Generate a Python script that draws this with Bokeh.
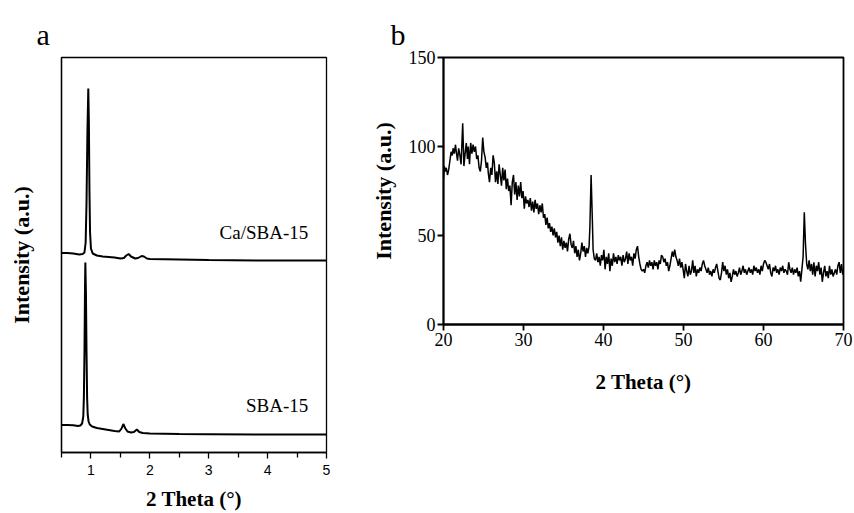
from bokeh.plotting import figure
from bokeh.layouts import row, column
from bokeh.models import FixedTicker, Range1d, Label
from bokeh.embed import file_html
from bokeh.resources import INLINE

# ---------------- Panel a data (low-angle XRD) ----------------
sba_x = [0.5, 0.6, 0.7, 0.78, 0.82, 0.85, 0.87, 0.88, 0.89, 0.9, 0.905, 0.915, 0.925, 0.935,
         0.945, 0.96, 0.98, 1.02, 1.1, 1.2, 1.3, 1.4, 1.48, 1.52, 1.55, 1.58, 1.62, 1.68,
         1.73, 1.78, 1.82, 1.88, 2.0, 2.5, 3.0, 4.0, 5.0]
sba_y = [27.5, 27.6, 27.3, 26.5, 27, 29, 36, 55, 100, 170, 190, 160, 100, 55,
         38, 31, 28, 26, 24.5, 23.5, 22.5, 21.5, 21, 24, 28.5, 24.5, 21, 20,
         20.5, 23, 20.5, 19.5, 19, 18.5, 18.3, 18, 18]

ca_x = [0.5, 0.6, 0.7, 0.8, 0.86, 0.89, 0.91, 0.925, 0.94, 0.955, 0.965, 0.975, 0.985, 1.0,
        1.03, 1.1, 1.2, 1.3, 1.4, 1.5, 1.56, 1.6, 1.64, 1.68, 1.75, 1.8, 1.86, 1.9, 1.95,
        2.0, 2.5, 3.0, 4.0, 5.0]
ca_y = [199.5, 199.5, 199, 198, 198.5, 200, 210, 250, 320, 364, 330, 260, 220, 204,
        199, 197, 196, 195.5, 195, 194, 194.5, 197, 198.5, 196, 194, 194.5, 196.5, 196, 194,
        193.5, 193, 192.5, 192, 192]

a_xticks = [1, 2, 3, 4, 5]
a_labels = ["Ca/SBA-15", "SBA-15"]

# ---------------- Panel b data (wide-angle XRD) ----------------
b_pts = [
    (20.0, 82), (20.1, 89), (20.2, 86), (20.35, 88), (20.5, 84), (20.65, 87), (20.8, 92),
    (20.95, 97), (21.1, 95), (21.2, 99), (21.35, 96), (21.5, 101), (21.6, 97), (21.75, 92),
    (21.9, 99), (22.05, 95), (22.2, 90), (22.4, 113), (22.55, 89), (22.7, 96), (22.85, 102),
    (23.0, 93), (23.1, 100), (23.25, 90), (23.4, 102), (23.55, 96), (23.7, 101), (23.85, 97),
    (24.0, 100), (24.15, 93), (24.3, 95), (24.45, 88), (24.6, 86), (24.75, 92), (24.9, 105),
    (25.05, 97), (25.2, 94), (25.35, 88), (25.5, 91), (25.6, 85), (25.75, 80), (25.9, 88),
    (26.05, 84), (26.2, 95), (26.35, 91), (26.5, 80), (26.65, 86), (26.8, 79), (26.95, 90),
    (27.1, 84), (27.25, 78), (27.4, 88), (27.55, 81), (27.7, 87), (27.85, 76), (28.0, 82),
    (28.15, 75), (28.3, 78), (28.45, 67), (28.6, 80), (28.75, 84), (28.9, 73), (29.05, 80),
    (29.2, 70), (29.35, 78), (29.5, 72), (29.65, 80), (29.8, 71), (29.95, 75), (30.1, 65),
    (30.25, 72), (30.4, 68), (30.55, 70), (30.7, 66), (30.85, 71), (31.0, 64), (31.15, 69),
    (31.3, 63), (31.45, 70), (31.6, 65), (31.75, 68), (31.9, 62), (32.05, 67), (32.2, 63),
    (32.35, 68), (32.5, 60), (32.65, 62), (32.8, 56), (32.95, 60), (33.1, 54), (33.25, 57),
    (33.4, 52), (33.55, 55), (33.7, 50), (33.85, 54), (34.0, 49), (34.15, 52), (34.3, 46),
    (34.45, 50), (34.6, 44), (34.75, 49), (34.9, 42), (35.05, 47), (35.2, 43), (35.35, 46),
    (35.5, 41), (35.65, 48), (35.8, 51), (35.95, 45), (36.1, 43), (36.25, 47), (36.4, 40),
    (36.55, 44), (36.7, 38), (36.85, 42), (37.0, 36), (37.15, 40), (37.3, 46), (37.45, 41),
    (37.6, 44), (37.75, 38), (37.9, 43), (38.05, 40), (38.2, 44), (38.3, 55), (38.45, 84),
    (38.6, 60), (38.7, 42), (38.85, 37), (39.0, 36), (39.15, 40), (39.3, 35), (39.45, 38),
    (39.6, 33), (39.75, 39), (39.9, 36), (40.05, 42), (40.2, 31), (40.35, 38), (40.5, 34),
    (40.65, 40), (40.8, 30), (40.95, 37), (41.1, 33), (41.25, 40), (41.4, 35), (41.55, 38),
    (41.7, 34), (41.85, 39), (42.0, 36), (42.15, 38), (42.3, 33), (42.45, 39), (42.6, 35),
    (42.75, 37), (42.9, 41), (43.05, 34), (43.2, 40), (43.35, 36), (43.5, 38), (43.65, 33),
    (43.8, 40), (43.95, 37), (44.1, 42), (44.25, 44), (44.4, 38), (44.55, 34), (44.7, 31),
    (44.85, 30), (45.0, 31), (45.15, 29), (45.3, 33), (45.45, 35), (45.6, 32), (45.75, 36),
    (45.9, 33), (46.05, 35), (46.2, 31), (46.35, 36), (46.5, 33), (46.65, 35), (46.8, 31),
    (46.95, 36), (47.1, 34), (47.25, 39), (47.4, 38), (47.55, 35), (47.7, 37), (47.85, 33),
    (48.0, 35), (48.15, 30), (48.3, 33), (48.45, 37), (48.6, 41), (48.75, 38), (48.9, 42),
    (49.05, 38), (49.2, 36), (49.35, 33), (49.5, 37), (49.65, 32), (49.8, 35), (49.95, 31),
    (50.1, 26), (50.25, 34), (50.4, 30), (50.55, 27), (50.7, 33), (50.85, 28), (51.0, 30),
    (51.15, 36), (51.3, 29), (51.45, 33), (51.6, 27), (51.75, 31), (51.9, 29), (52.05, 32),
    (52.2, 30), (52.35, 34), (52.5, 36), (52.65, 33), (52.8, 31), (52.95, 29), (53.1, 32),
    (53.25, 28), (53.4, 30), (53.55, 27), (53.7, 31), (53.85, 29), (54.0, 32), (54.15, 34),
    (54.3, 30), (54.45, 26), (54.6, 25), (54.75, 29), (54.9, 35), (55.05, 30), (55.2, 33),
    (55.35, 28), (55.5, 31), (55.65, 26), (55.8, 29), (55.95, 24), (56.1, 27), (56.25, 31),
    (56.4, 28), (56.55, 30), (56.7, 27), (56.85, 29), (57.0, 32), (57.15, 28), (57.3, 30),
    (57.45, 33), (57.6, 29), (57.75, 31), (57.9, 28), (58.05, 30), (58.2, 32), (58.35, 29),
    (58.5, 31), (58.65, 28), (58.8, 33), (58.95, 30), (59.1, 32), (59.25, 29), (59.4, 31),
    (59.55, 28), (59.7, 33), (59.85, 30), (60.0, 34), (60.15, 36), (60.3, 35), (60.45, 33),
    (60.6, 31), (60.75, 34), (60.9, 29), (61.05, 27), (61.2, 32), (61.35, 30), (61.5, 33),
    (61.65, 29), (61.8, 31), (61.95, 28), (62.1, 32), (62.25, 30), (62.4, 33), (62.55, 29),
    (62.7, 31), (62.85, 30), (63.0, 28), (63.15, 35), (63.3, 31), (63.45, 29), (63.6, 32),
    (63.75, 28), (63.9, 31), (64.05, 29), (64.2, 32), (64.35, 27), (64.5, 30), (64.65, 24),
    (64.8, 31), (64.95, 38), (65.1, 63), (65.25, 45), (65.4, 34), (65.55, 31), (65.7, 36),
    (65.85, 30), (66.0, 34), (66.15, 28), (66.3, 35), (66.45, 27), (66.6, 33), (66.75, 30),
    (66.9, 35), (67.05, 28), (67.2, 32), (67.35, 24), (67.5, 29), (67.65, 33), (67.8, 27),
    (67.95, 30), (68.1, 26), (68.25, 33), (68.4, 28), (68.55, 31), (68.7, 27), (68.85, 29),
    (69.0, 31), (69.15, 28), (69.3, 33), (69.45, 35), (69.6, 29), (69.75, 34), (69.9, 28),
    (70.0, 31),
]
b_x = [p[0] for p in b_pts]
b_y = [p[1] for p in b_pts]
b_xticks = [20, 30, 40, 50, 60, 70]
b_yticks = [0, 50, 100, 150]

SERIF = "Liberation Serif"
SANS = "Liberation Sans"


def panel_title(p, letter, offset):
    p.title.text = letter
    p.title.text_font = SERIF
    p.title.text_font_size = "30px"
    p.title.text_font_style = "normal"
    p.title.text_color = "black"
    p.title.align = "left"
    p.title.offset = offset
    p.title.standoff = 14


def blacken(ax):
    ax.axis_line_color = "black"
    ax.major_tick_line_color = "black"
    ax.minor_tick_line_color = "black"
    ax.major_label_text_color = "black"
    ax.axis_label_text_color = "black"


# ---------------- Panel a ----------------
pa = figure(width=345, height=513, output_backend="svg", toolbar_location=None,
            x_range=Range1d(0.5, 5), y_range=Range1d(0, 395),
            min_border_left=61, min_border_right=19, min_border_top=57, min_border_bottom=61)
pa.line(sba_x, sba_y, line_color="black", line_width=2)
pa.line(ca_x, ca_y, line_color="black", line_width=2)
pa.grid.visible = False
pa.outline_line_color = "black"
pa.outline_line_width = 1.3
pa.background_fill_color = "white"
pa.border_fill_color = "white"
panel_title(pa, "a", -25)

xa = pa.xaxis[0]
blacken(xa)
xa.ticker = FixedTicker(ticks=a_xticks, minor_ticks=[0.5, 1.5, 2.5, 3.5, 4.5])
xa.major_tick_out = 6
xa.major_tick_in = 0
xa.minor_tick_out = 5
xa.minor_tick_in = 0
xa.axis_line_width = 1.3
xa.major_tick_line_width = 1.3
xa.minor_tick_line_width = 1.3
xa.major_label_text_font = SANS
xa.major_label_text_font_size = "14px"
xa.major_label_standoff = 6
xa.axis_label = "2 Theta (°)"
xa.axis_label_text_font = SERIF
xa.axis_label_text_font_style = "bold"
xa.axis_label_text_font_size = "21px"
xa.axis_label_standoff = 9

ya = pa.yaxis[0]
blacken(ya)
ya.ticker = FixedTicker(ticks=[])
ya.major_tick_out = 0
ya.minor_tick_out = 0
ya.major_label_text_font_size = "0px"
ya.axis_line_width = 1.3
ya.axis_label = "Intensity (a.u.)"
ya.axis_label_text_font = SERIF
ya.axis_label_text_font_style = "bold"
ya.axis_label_text_font_size = "22px"
ya.axis_label_standoff = 28

pa.add_layout(Label(x=4.69, y=220, text=a_labels[0], text_font=SERIF, text_font_size="19px",
                    text_color="black", text_align="right", text_baseline="middle"))
pa.add_layout(Label(x=4.69, y=47, text=a_labels[1], text_font=SERIF, text_font_size="19px",
                    text_color="black", text_align="right", text_baseline="middle"))

# ---------------- Panel b ----------------
pb = figure(width=509, height=410, output_backend="svg", toolbar_location=None,
            x_range=Range1d(20, 70), y_range=Range1d(0, 150),
            min_border_left=98, min_border_right=11, min_border_top=57, min_border_bottom=86)
pb.line(b_x, b_y, line_color="black", line_width=1.5)
pb.grid.visible = False
pb.outline_line_color = "black"
pb.outline_line_width = 1.8
pb.background_fill_color = "white"
pb.border_fill_color = "white"
panel_title(pb, "b", -53)

xb = pb.xaxis[0]
blacken(xb)
xb.ticker = FixedTicker(ticks=b_xticks)
xb.major_tick_out = 6
xb.major_tick_in = 0
xb.minor_tick_out = 0
xb.axis_line_width = 1.8
xb.major_tick_line_width = 1.8
xb.major_label_text_font = SERIF
xb.major_label_text_font_size = "18px"
xb.major_label_standoff = 2
xb.axis_label = "2 Theta (°)"
xb.axis_label_text_font = SERIF
xb.axis_label_text_font_style = "bold"
xb.axis_label_text_font_size = "21px"
xb.axis_label_standoff = 21

yb = pb.yaxis[0]
blacken(yb)
yb.ticker = FixedTicker(ticks=b_yticks)
yb.major_tick_out = 6
yb.major_tick_in = 0
yb.minor_tick_out = 0
yb.axis_line_width = 1.8
yb.major_tick_line_width = 1.8
yb.major_label_text_font = SERIF
yb.major_label_text_font_size = "18px"
yb.major_label_standoff = 2
yb.axis_label = "Intensity (a.u.)"
yb.axis_label_text_font = SERIF
yb.axis_label_text_font_style = "bold"
yb.axis_label_text_font_size = "22px"
yb.axis_label_standoff = 10

layout = row(column(pa), column(pb), spacing=0)
with open("out.html", "w") as f:
    f.write(file_html(layout, INLINE))
